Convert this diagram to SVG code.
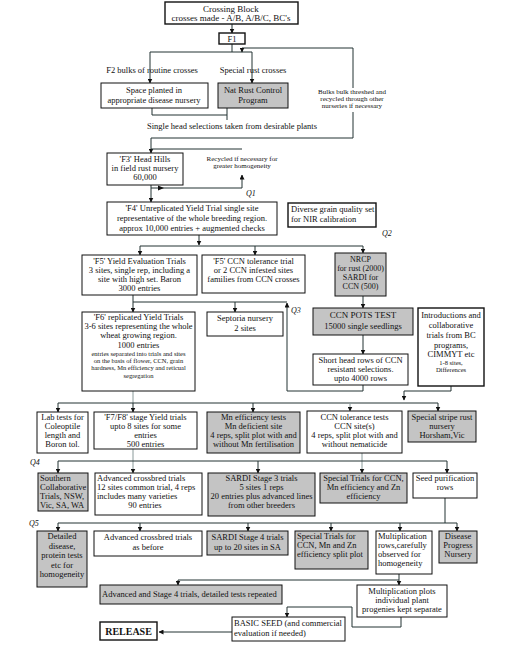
<svg xmlns="http://www.w3.org/2000/svg" width="510" height="650" viewBox="0 0 510 650">
<style>
text{font-family:"Liberation Serif","Times New Roman",serif;font-size:8.5px;fill:#111}
.c{text-anchor:middle}
.s{font-size:6.5px}
.t{font-size:7px}
.n{font-size:8px}
.q{font-style:italic;font-size:8px}
.b{fill:#fff;stroke:#111;stroke-width:1}
.g{fill:#c4c4c4;stroke:#111;stroke-width:1}
.k{stroke-width:1.4}
.ln{fill:none;stroke:#223333;stroke-width:1}
.lg{fill:none;stroke:#8a9a9a;stroke-width:1}
</style>
<defs>
<marker id="ah" viewBox="0 0 10 10" refX="9" refY="5" markerWidth="5" markerHeight="5" orient="auto" markerUnits="userSpaceOnUse">
<path d="M0,0L10,5L0,10z" fill="#111"/>
</marker>
</defs>
<rect width="510" height="650" fill="#fff"/>

<g id="connectors">
<path class="ln" d="M232,24V33" marker-end="url(#ah)"/>
<path class="ln" d="M232,44V52M150,52H252"/>
<path class="ln" d="M353,88V48H242V52" marker-end="url(#ah)"/>
<path class="ln" d="M150,52V83" marker-end="url(#ah)"/>
<path class="ln" d="M252,52V83" marker-end="url(#ah)"/>
<path class="ln" d="M152,108V115H227V108M227,115V120"/>
<path class="ln" d="M353,112V138H151"/>
<path class="ln" d="M151,138V153" marker-end="url(#ah)"/>
<path class="ln" d="M151,149H242"/>
<path class="ln" d="M151,188H242V175" marker-end="url(#ah)"/>
<path d="M158,185.5L164,188L158,190.5z" fill="#111"/>
<path class="ln" d="M151,185V202" marker-end="url(#ah)"/>
<path class="ln" d="M199,235V245" marker-end="url(#ah)"/>
<path class="ln" d="M140,246H363"/>
<path class="ln" d="M140,246V255" marker-end="url(#ah)"/>
<path class="ln" d="M255,246V255" marker-end="url(#ah)"/>
<path class="ln" d="M363,246V253" marker-end="url(#ah)"/>
<path class="ln" d="M133,295V302H287"/>
<path class="ln" d="M133,302V312" marker-end="url(#ah)"/>
<path class="ln" d="M235,302V312" marker-end="url(#ah)"/>
<path class="ln" d="M363,385V391H287V303" marker-end="url(#ah)"/>
<path class="ln" d="M363,296V308" marker-end="url(#ah)"/>
<path class="ln" d="M363,335V354" marker-end="url(#ah)"/>
<path class="ln" d="M451,386V391H404V400" marker-end="url(#ah)"/>
<path class="lg" d="M133,391V403"/>
<path class="ln" d="M58,403H438"/>
<path class="ln" d="M58,403V412" marker-end="url(#ah)"/>
<path class="ln" d="M133,403V412" marker-end="url(#ah)"/>
<path class="ln" d="M253,403V412" marker-end="url(#ah)"/>
<path class="lg" d="M350,403V411" marker-end="url(#ah)"/>
<path class="ln" d="M438,403V411" marker-end="url(#ah)"/>
<path class="lg" d="M133,449V473" marker-end="url(#ah)"/>
<path class="lg" d="M362,453V473" marker-end="url(#ah)"/>
<path class="ln" d="M58,461H447"/>
<path class="ln" d="M58,461V473" marker-end="url(#ah)"/>
<path class="ln" d="M258,461V473" marker-end="url(#ah)"/>
<path class="ln" d="M447,461V473" marker-end="url(#ah)"/>
<path class="ln" d="M445,498V523M58,523H457"/>
<path class="ln" d="M58,523V531" marker-end="url(#ah)"/>
<path class="ln" d="M140,523V531" marker-end="url(#ah)"/>
<path class="ln" d="M248,523V531" marker-end="url(#ah)"/>
<path class="ln" d="M331,523V531" marker-end="url(#ah)"/>
<path class="ln" d="M400,523V531" marker-end="url(#ah)"/>
<path class="ln" d="M457,523V531" marker-end="url(#ah)"/>
<path class="ln" d="M399,574V585" marker-end="url(#ah)"/>
<path class="ln" d="M399,580H178V585" marker-end="url(#ah)"/>
<path class="ln" d="M401,617V627H352V607H287V617" marker-end="url(#ah)"/>
<path class="ln" d="M232,632H159" stroke-width="1.6" marker-end="url(#ah)"/>
</g>

<g id="crossing"><rect class="b k" x="165" y="2" width="133" height="22"/><text class="c" x="231" y="12" style="font-size:9px">Crossing Block</text><text class="c" x="231" y="21" style="font-size:9px">crosses made - A/B, A/B/C, BC's</text></g>
<g id="f1"><rect class="b k" x="219" y="33" width="26" height="11"/><text class="c" x="232" y="42">F1</text></g>
<g id="lbl-f2"><text class="c" x="152" y="73">F2 bulks of routine crosses</text></g>
<g id="lbl-rust"><text class="c" x="253" y="73">Special rust crosses</text></g>
<g id="space"><rect class="b" x="101" y="83" width="107" height="25"/><text class="c" x="154" y="93">Space planted in</text><text class="c" x="154" y="103">appropriate disease nursery</text></g>
<g id="natrust"><rect class="g" x="218" y="83" width="70" height="25"/><text class="c" x="253" y="93">Nat Rust Control</text><text class="c" x="253" y="103">Program</text></g>
<g id="bulks"><text class="c t" x="352" y="94">Bulks bulk threshed and</text><text class="c t" x="352" y="101">recycled through other</text><text class="c t" x="352" y="108">nurseries if necessary</text></g>
<g id="single"><text class="c" x="232" y="129">Single head selections taken from desirable plants</text></g>
<g id="f3"><rect class="b" x="107" y="153" width="76" height="32"/><text class="c" x="145" y="162">'F3' Head Hills</text><text class="c" x="145" y="171">in field rust nursery</text><text class="c" x="145" y="180">60,000</text></g>
<g id="recycled"><text class="c t" x="242" y="161">Recycled if necessary for</text><text class="c t" x="242" y="168">greater homogeneity</text></g>
<text class="q" x="246" y="196">Q1</text>
<g id="f4"><rect class="b" x="107" y="202" width="170" height="33"/><text class="c" x="192" y="211">'F4' Unreplicated Yield Trial single site</text><text class="c" x="192" y="221">representative of the whole breeding region.</text><text class="c" x="192" y="231">approx 10,000 entries + augmented checks</text></g>
<g id="diverse"><rect class="b k" x="288" y="203" width="88" height="24"/><text x="291" y="212">Diverse grain quality set</text><text x="291" y="222">for NIR calibration</text></g>
<text class="q" x="382" y="236">Q2</text>
<g id="f5yield"><rect class="b" x="82" y="255" width="115" height="40"/><text class="c" x="139.5" y="264">'F5' Yield Evaluation Trials</text><text class="c" x="139.5" y="273">3 sites, single rep, including a</text><text class="c" x="139.5" y="282">site with high set. Baron</text><text class="c" x="139.5" y="291">3000 entries</text></g>
<g id="f5ccn"><rect class="b" x="202" y="255" width="103" height="38"/><text class="c" x="253.5" y="264">'F5' CCN tolerance trial</text><text class="c" x="253.5" y="273">or 2 CCN infested sites</text><text class="c" x="253.5" y="282">families from CCN crosses</text></g>
<g id="nrcp"><rect class="g" x="335" y="253" width="51" height="43"/><text class="c n" x="360.5" y="262">NRCP</text><text class="c n" x="360.5" y="271">for rust (2000)</text><text class="c n" x="360.5" y="280">SARDI for</text><text class="c n" x="360.5" y="289">CCN (500)</text></g>
<text class="q" x="291" y="313">Q3</text>
<g id="f6"><rect class="b" x="82" y="312" width="113" height="79"/><text class="c" x="138.5" y="320">'F6' replicated Yield Trials</text><text class="c" x="138.5" y="329">3-6 sites representing the whole</text><text class="c" x="138.5" y="338">wheat growing region.</text><text class="c" x="138.5" y="348">1000 entries</text><text class="c s" x="138.5" y="356">entries separated into trials and sites</text><text class="c s" x="138.5" y="363">on the basis of flower, CCN, grain</text><text class="c s" x="138.5" y="370">hardness, Mn efficiency and reticual</text><text class="c s" x="138.5" y="378">segregation</text></g>
<g id="septoria"><rect class="b" x="207" y="312" width="76" height="24"/><text class="c" x="245" y="321">Septoria nursery</text><text class="c" x="245" y="331">2 sites</text></g>
<g id="ccnpots"><rect class="g" x="313" y="308" width="100" height="27"/><text class="c" x="363" y="318" style="font-size:9px">CCN POTS TEST</text><text class="c" x="363" y="329">15000 single seedlings</text></g>
<g id="shortrows"><rect class="b" x="313" y="354" width="95" height="31"/><text class="c" x="360.5" y="363">Short head rows of CCN</text><text class="c" x="360.5" y="372">resistant selections.</text><text class="c" x="360.5" y="381">upto 4000 rows</text></g>
<g id="intro"><rect class="b k" x="418" y="308" width="66" height="78"/><text class="c" x="451" y="318">Introductions and</text><text class="c" x="451" y="328">collaborative</text><text class="c" x="451" y="338">trials from BC</text><text class="c" x="451" y="348">programs,</text><text class="c" x="451" y="357">CIMMYT etc</text><text class="c s" x="451" y="365">1-8 sites,</text><text class="c s" x="451" y="372">Differences</text></g>
<g id="lab"><rect class="b" x="37" y="412" width="51" height="41"/><text class="c" x="62.5" y="420">Lab tests for</text><text class="c" x="62.5" y="429">Coleoptile</text><text class="c" x="62.5" y="438">length and</text><text class="c" x="62.5" y="447">Boron tol.</text></g>
<g id="f7f8"><rect class="b" x="94" y="412" width="103" height="37"/><text class="c" x="145.5" y="420">'F7/F8' stage Yield trials</text><text class="c" x="145.5" y="429">upto 8 sites for some</text><text class="c" x="145.5" y="438">entries</text><text class="c" x="145.5" y="447">500 entries</text></g>
<g id="mn"><rect class="g" x="207" y="412" width="93" height="41"/><text class="c" x="253.5" y="420">Mn efficiency tests</text><text class="c" x="253.5" y="429">Mn deficient site</text><text class="c" x="253.5" y="438">4 reps, split plot with and</text><text class="c" x="253.5" y="447">without Mn fertilisation</text></g>
<g id="ccntol"><rect class="b" x="307" y="411" width="95" height="42"/><text class="c" x="354.5" y="420">CCN tolerance tests</text><text class="c" x="354.5" y="429">CCN site(s)</text><text class="c" x="354.5" y="438">4 reps, split plot with and</text><text class="c" x="354.5" y="447">without nematicide</text></g>
<g id="stripe"><rect class="g" x="408" y="411" width="68" height="31"/><text class="c" x="442" y="420">Special stripe rust</text><text class="c" x="442" y="429">nursery</text><text class="c" x="442" y="438">Horsham,Vic</text></g>
<text class="q" x="30" y="465">Q4</text>
<g id="southern"><rect class="g" x="38" y="473" width="50" height="38"/><text x="40" y="481">Southern</text><text x="40" y="490">Collaborative</text><text x="40" y="499">Trials, NSW,</text><text x="40" y="508">Vic, SA, WA</text></g>
<g id="advcross"><rect class="b" x="95" y="473" width="107" height="42"/><text x="97" y="481">Advanced crossbred trials</text><text x="97" y="490">12 sites common trial, 4 reps</text><text x="97" y="499">includes many varieties</text><text class="c" x="145" y="508">90 entries</text></g>
<g id="sardi3"><rect class="g" x="208" y="473" width="107" height="43"/><text class="c" x="261.5" y="481">SARDI Stage 3 trials</text><text class="c" x="261.5" y="490">5 sites 1 reps</text><text class="c" x="261.5" y="499">20 entries plus advanced lines</text><text class="c" x="261.5" y="508">from other breeders</text></g>
<g id="specialccn"><rect class="g" x="320" y="473" width="87" height="30"/><text class="c" x="363.5" y="481">Special Trials for CCN,</text><text class="c" x="363.5" y="490">Mn efficiency and Zn</text><text class="c" x="363.5" y="499">efficiency</text></g>
<g id="seedpur"><rect class="b" x="413" y="473" width="64" height="25"/><text class="c" x="445" y="481">Seed purification</text><text class="c" x="445" y="490">rows</text></g>
<text class="q" x="29" y="526">Q5</text>
<g id="detailed"><rect class="g" x="37" y="531" width="50" height="56"/><text class="c" x="62" y="539">Detailed</text><text class="c" x="62" y="548.5">disease,</text><text class="c" x="62" y="558">protein tests</text><text class="c" x="62" y="567.5">etc for</text><text class="c" x="62" y="577">homogeneity</text></g>
<g id="advbefore"><rect class="b" x="94" y="531" width="108" height="25"/><text class="c" x="148" y="540">Advanced crossbred trials</text><text class="c" x="148" y="550">as before</text></g>
<g id="sardi4"><rect class="g" x="207" y="531" width="81" height="24"/><text class="c" x="247.5" y="540">SARDI Stage 4 trials</text><text class="c" x="247.5" y="550">up to 20 sites in SA</text></g>
<g id="special2"><rect class="g" x="295" y="531" width="73" height="38"/><text x="297" y="539">Special Trials for</text><text x="297" y="548">CCN, Mn and Zn</text><text x="297" y="557">efficiency split plot</text></g>
<g id="multrows"><rect class="b" x="376" y="531" width="56" height="43"/><text x="378" y="539">Multiplication</text><text x="378" y="548">rows,carefully</text><text x="378" y="557">observed for</text><text x="378" y="566">homogeneity</text></g>
<g id="disease"><rect class="g" x="439" y="531" width="38" height="32"/><text class="c" x="458" y="539">Disease</text><text class="c" x="458" y="548">Progress</text><text class="c" x="458" y="557">Nursery</text></g>
<g id="advstage4"><rect class="g" x="100" y="585" width="182" height="19"/><text x="102" y="597">Advanced and Stage 4 trials, detailed tests repeated</text></g>
<g id="multplots"><rect class="b" x="357" y="585" width="90" height="32"/><text class="c" x="402" y="594">Multiplication plots</text><text class="c" x="402" y="603">individual plant</text><text class="c" x="402" y="612">progenies kept separate</text></g>
<g id="basic"><rect class="b" x="232" y="617" width="113" height="24"/><text x="234" y="626">BASIC SEED (and commercial</text><text x="234" y="636">evaluation if needed)</text></g>
<g id="release"><rect class="b k" x="100" y="622" width="57" height="18"/><text class="c" x="128.5" y="635" style="font-size:10px;font-weight:bold">RELEASE</text></g>
</svg>
